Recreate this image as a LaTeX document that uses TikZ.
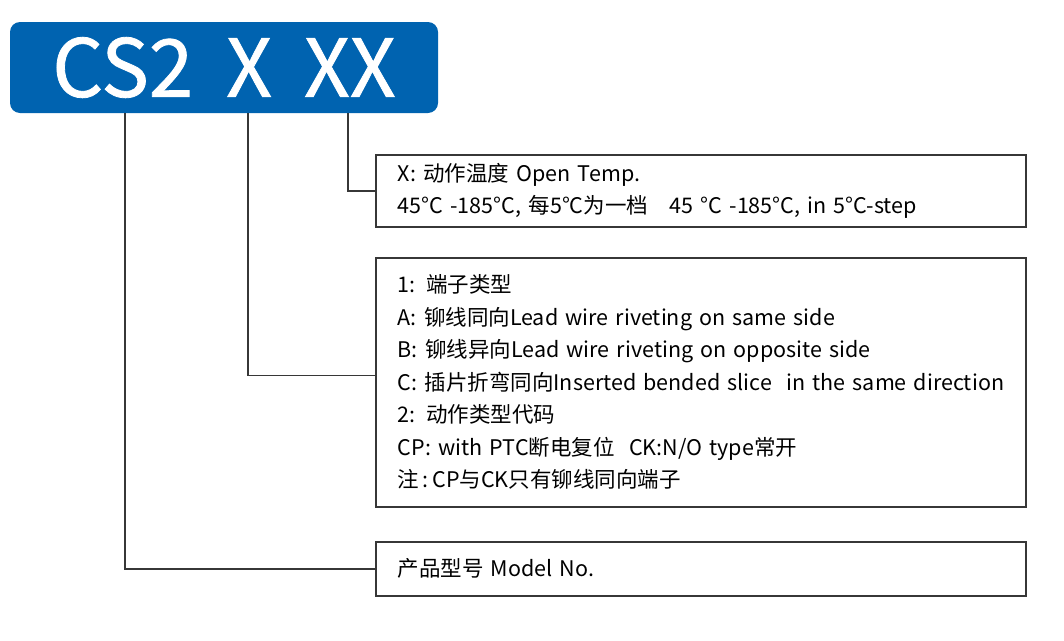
\documentclass[tikz,border=0pt]{standalone}
\usepackage{fontspec}
\setmainfont{Noto Sans CJK SC}
\newfontfamily\titlefont{Noto Sans CJK SC}[RawFeature={embolden=1.0}]
\usepackage{xcolor}
\definecolor{codeblue}{RGB}{0,99,176}
\definecolor{linegray}{RGB}{55,55,55}

\begin{document}
\begin{tikzpicture}[x=1pt,y=-1pt,
    infobox/.style={draw=linegray,line width=1.6pt,anchor=north west,text width=606pt,inner xsep=22pt,inner ysep=0pt,align=left,font=\fontsize{21.5}{32.5}\selectfont},
    leader/.style={draw=linegray,line width=1.6pt}]

     \useasboundingbox (0,0) rectangle (1064,640);

     %Model code
     \node[fill=codeblue,rounded corners=10pt,minimum width=428pt,minimum height=91pt,text=white,font=\titlefont\fontsize{80}{80}\selectfont] (model) at (224,67.5) {CS2\hspace{33pt}X\hspace{32pt}XX};

     %Boxes
     \node[infobox,minimum height=72pt] (temp) at (375,154) {X: 动作温度 Open Temp.\\45°C -185°C, 每5°C为一档\quad 45 °C -185°C, in 5°C-step};
     \node[infobox,minimum height=249pt] (term) at (375,257) {1: 端子类型\\A: 铆线同向Lead wire riveting on same side\\B: 铆线异向Lead wire riveting on opposite side\\\mbox{C: 插片折弯同向Inserted bended slice\ \ in the same direction}\\2: 动作类型代码\\CP: with PTC断电复位\ \ CK:N/O type常开\\注\,:\,CP与CK只有铆线同向端子};
     \node[infobox,minimum height=54pt] (modelno) at (375,541) {产品型号 Model No.};

     %Leaders
     \coordinate (lead1) at (125,113);
     \coordinate (lead2) at (248,113);
     \coordinate (lead3) at (348,113);
     \draw[leader] (lead1) |- (modelno.west);
     \draw[leader] (lead2) |- ([yshift=7pt]term.west);
     \draw[leader] (lead3) |- (temp.west);

\end{tikzpicture}
\end{document}
